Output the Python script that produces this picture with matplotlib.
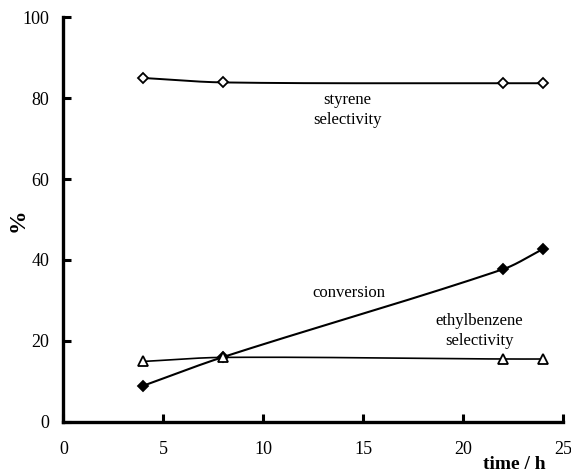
import numpy as np
import matplotlib
matplotlib.use("Agg")
import matplotlib.pyplot as plt

plt.rcParams['font.family'] = ['Liberation Serif', 'DejaVu Serif']

time_h = [4, 8, 22, 24]
styrene_sel = [85.0, 83.9, 83.7, 83.7]
conversion = [8.9, 16.0, 37.7, 42.7]
ethylbenzene_sel = [14.9, 15.9, 15.5, 15.5]

x_ticks = [0, 5, 10, 15, 20, 25]
y_ticks = [0, 20, 40, 60, 80, 100]


def smooth(xs, ys, n=60):
    """Smoothed line through the points (cubic Hermite in x)."""
    x = np.asarray(xs, float)
    y = np.asarray(ys, float)
    m = np.empty_like(y)
    m[0] = (y[1] - y[0]) / (x[1] - x[0])
    m[-1] = (y[-1] - y[-2]) / (x[-1] - x[-2])
    for i in range(1, len(x) - 1):
        m[i] = (y[i + 1] - y[i - 1]) / (x[i + 1] - x[i - 1])
    X, Y = [], []
    for i in range(len(x) - 1):
        h = x[i + 1] - x[i]
        t = np.linspace(0, 1, n)
        h00 = 2 * t ** 3 - 3 * t ** 2 + 1
        h10 = t ** 3 - 2 * t ** 2 + t
        h01 = -2 * t ** 3 + 3 * t ** 2
        h11 = t ** 3 - t ** 2
        yy = h00 * y[i] + h10 * h * m[i] + h01 * y[i + 1] + h11 * h * m[i + 1]
        xx = x[i] + t * h
        if i > 0:
            xx, yy = xx[1:], yy[1:]
        X.append(xx)
        Y.append(yy)
    return np.concatenate(X), np.concatenate(Y)


fig = plt.figure(figsize=(5.71, 4.72), dpi=100)
ax = fig.add_axes([0.111, 0.1066, 0.875, 0.8567])

for ys, mk, fc, lw in [(styrene_sel, 'D', 'white', 1.4),
                       (conversion, 'D', 'black', 1.5),
                       (ethylbenzene_sel, '^', 'white', 1.2)]:
    sx, sy = smooth(time_h, ys)
    ax.plot(sx, sy, color='black', lw=lw, zorder=2)
    ax.plot(time_h, ys, linestyle='none', marker=mk, markersize=5.5 if mk == 'D' else 6.5,
            markerfacecolor=fc, markeredgecolor='black', markeredgewidth=1.3, zorder=3)

ax.set_xlim(0, 25)
ax.set_ylim(0, 100)
ax.set_xticks(x_ticks)
ax.set_yticks(y_ticks)
ax.set_xticklabels([str(v) for v in x_ticks])
ax.set_yticklabels([str(v) for v in y_ticks])

for s in ['top', 'right']:
    ax.spines[s].set_visible(False)
for s in ['left', 'bottom']:
    ax.spines[s].set_linewidth(2.4)

ax.tick_params(axis='both', direction='in', length=6, width=2.2, labelsize=13)
ax.tick_params(axis='x', pad=14)
ax.tick_params(axis='y', pad=10)

ax.set_ylabel('%', fontsize=17, fontweight='bold')
ax.yaxis.set_label_coords(-0.07, 0.4975)
ax.text(0.966, -0.085, 'time / h', transform=ax.transAxes, fontsize=14, fontweight='bold',
        ha='right', va='top')

ax.text(14.2, 77.1, 'styrene\nselectivity', fontsize=12, ha='center', va='center', linespacing=1.3)
ax.text(14.3, 31.8, 'conversion', fontsize=12, ha='center', va='center')
ax.text(20.8, 22.5, 'ethylbenzene\nselectivity', fontsize=12, ha='center', va='center', linespacing=1.3)

fig.savefig('out.png', dpi=100)
